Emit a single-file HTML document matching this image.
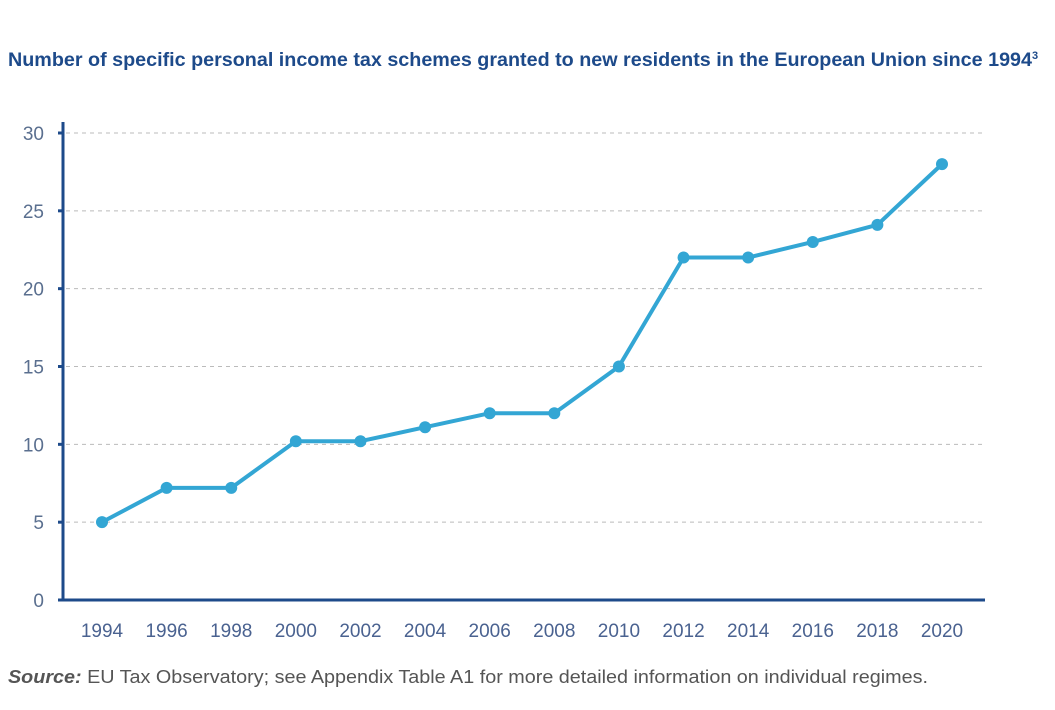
<!DOCTYPE html>
<html><head><meta charset="utf-8"><style>
body{margin:0;background:#fff;width:1055px;height:705px;overflow:hidden;font-family:"Liberation Sans",sans-serif}
</style></head><body>
<svg width="1055" height="705" id="c">
<text x="8" y="66" font-size="19" font-weight="bold" fill="#1d4a8a"><tspan textLength="1024" lengthAdjust="spacingAndGlyphs">Number of specific personal income tax schemes granted to new residents in the European Union since 1994</tspan><tspan font-size="11" dy="-7">3</tspan></text>
<text x="8" y="683" font-size="18" fill="#555" textLength="920" lengthAdjust="spacingAndGlyphs"><tspan font-style="italic" font-weight="bold">Source:</tspan> EU Tax Observatory; see Appendix Table A1 for more detailed information on individual regimes.</text>
<g id="grid"></g><g id="axes"></g><g id="series"></g>
</svg>
<script>
const years=[1994,1996,1998,2000,2002,2004,2006,2008,2010,2012,2014,2016,2018,2020];
const values=[5,7.2,7.2,10.2,10.2,11.1,12,12,15,22,22,23,24.1,28];
const yTicks=[0,5,10,15,20,25,30];
const NS="http://www.w3.org/2000/svg";
function x(i){return 102+i*(942-102)/(years.length-1);}
function y(v){return 600-v*(600-133)/30;}
function mk(t,a,p){const e=document.createElementNS(NS,t);for(const k in a)e.setAttribute(k,a[k]);p.appendChild(e);return e;}
const g=document.getElementById('grid'),ax=document.getElementById('axes'),s=document.getElementById('series');
yTicks.forEach(v=>{
 if(v>0){const l=mk('line',{x1:66,x2:985,y1:y(v),y2:y(v),stroke:'#bbb','stroke-dasharray':'4 4','stroke-width':1},g);
 
 }
 const tk=mk('line',{x1:58,x2:63,y1:y(v),y2:y(v),stroke:'#1d4a8a','stroke-width':3},ax);
 
 
 const t=mk('text',{x:44,y:y(v)+7,'font-size':19,fill:'#5a6f8f','text-anchor':'end'},ax);t.textContent=v;
 
 
});
const ya=mk('line',{x1:63,x2:63,y1:122,y2:601,stroke:'#1d4a8a','stroke-width':3},ax);


const xa=mk('line',{x1:62,x2:985,y1:600,y2:600,stroke:'#1d4a8a','stroke-width':3},ax);


years.forEach((yr,i)=>{const t=mk('text',{x:x(i),y:637,'font-size':19,fill:'#4a6290','text-anchor':'middle'},ax);t.textContent=yr;
 
 });
const pl=mk('polyline',{points:values.map((v,i)=>x(i)+','+y(v)).join(' '),fill:'none',stroke:'#33a6d4','stroke-width':4,'stroke-linejoin':'round'},s);


values.forEach((v,i)=>{const c=mk('circle',{cx:x(i),cy:y(v),r:6,fill:'#33a6d4'},s);
 
 });
</script>
</body></html>
